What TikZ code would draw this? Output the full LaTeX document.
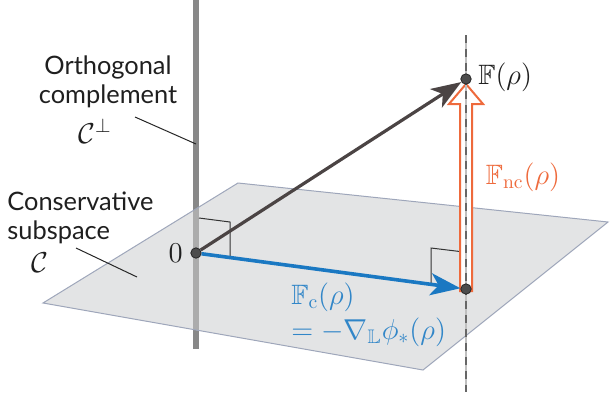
\documentclass[tikz,border=0pt]{standalone}
\usepackage{amsmath}
\usepackage{amssymb}
\usepackage{fontspec}
\setsansfont{Lato}
\usepackage{tikz}
\usetikzlibrary{arrows.meta,calc}

\definecolor{vecgray}{HTML}{4B4444}
\definecolor{vecblue}{HTML}{1A78C2}
\definecolor{vecorange}{HTML}{EE6A3C}
\definecolor{planefill}{HTML}{E3E4E5}
\definecolor{planeedge}{HTML}{9EA6BA}
\definecolor{polegray}{HTML}{888888}

\begin{document}
\begin{tikzpicture}[x=0.5pt,y=-0.5pt]
    % Styles for labels, dots and arrows
    \tikzset{
      lbl/.style={font=\sffamily\fontsize{12.7}{14.3}\selectfont, text=black!88, inner sep=0pt},
      mlbl/.style={font=\fontsize{14}{17.5}\selectfont, text=black!88, inner sep=0pt},
      leader/.style={black!85, line width=0.5pt},
      rightangle/.style={black!80, line width=0.5pt},
      dot/.style={circle, fill=black!70, draw=black!85, line width=0.4pt, minimum size=5.2pt, inner sep=0pt},
      arrow/.style={line width=1.6pt, -{Stealth[length=15pt,width=11pt,inset=4pt]}}
    }
    \useasboundingbox (0,0) rectangle (610,392);

    % Plane and orthogonal pole
    \coordinate (PA) at (238,183);
    \coordinate (PB) at (608,222);
    \coordinate (PC) at (423,370);
    \coordinate (PD) at (43,303);
    \coordinate (poletop) at (196,0);
    \coordinate (polebot) at (196,349);
    \draw[polegray, line width=3pt] (poletop) -- (polebot);
    \fill[planefill] (PA) -- (PB) -- (PC) -- (PD) -- cycle;
    \begin{scope}
      \clip (PA) -- (PB) -- (PC) -- (PD) -- cycle;
      \draw[polegray!70, line width=3pt] (poletop) -- (polebot);
    \end{scope}
    \draw[planeedge, line width=0.5pt] (PA) -- (PB) -- (PC) -- (PD) -- cycle;

    % Points with explicit coordinates
    \coordinate (O) at (196,253);
    \coordinate (F) at (466,79);
    \coordinate (Fc) at (466,289);
    \coordinate (dtop) at (466,35);
    \coordinate (dbot) at (466,392);

    % Right angles
    \draw[rightangle] (199,218) -- (230,222) -- (230,257);
    \draw[rightangle] (431,284) -- (431,248) -- (464,252);

    % Leader lines
    \coordinate (cperpend) at (135,117);
    \coordinate (cperppole) at (196,144);
    \coordinate (cend) at (76,248);
    \coordinate (cplane) at (137,277);
    \draw[leader] (cperpend) -- (cperppole);
    \draw[leader] (cend) -- (cplane);

    % Non-conservative part (hollow arrow)
    \draw[vecorange, line width=1pt, fill=white, line join=miter]
      ($(Fc)+(-6,2)$) -- ($(Fc)+(-6,-185)$) -- ($(Fc)+(-17,-185)$) -- ($(F)+(0,5)$)
      -- ($(Fc)+(17,-185)$) -- ($(Fc)+(6,-185)$) -- ($(Fc)+(6,2)$) -- cycle;
    \draw[black!25, line width=0.6pt] (dtop) -- (dbot);
    \draw[black!60, line width=1.1pt, dash pattern=on 4pt off 3pt] (dtop) -- (dbot);

    % Dots
    \node[dot] (origin) at (O) {};
    \node[dot] (full) at (F) {};
    \node[dot] (cons) at (Fc) {};

    % Arrows
    \draw[arrow, vecgray] (origin) -- (full);
    \draw[arrow, vecblue, line width=1.8pt] (origin) -- (cons);

    % Labels
    \node[lbl, align=center] (orthlbl) at (108,82) {Orthogonal\\complement};
    \node[mlbl] (cperp) at (95,131) {$\mathcal{C}^{\perp}$};
    \node[lbl, align=left, anchor=west] (conslbl) at (7,218) {Conservative\\subspace};
    \node[mlbl] (clbl) at (40,263) {$\mathcal{C}$};
    \node[mlbl, anchor=east] (zero) at (183,253) {$0$};
    \node[mlbl, anchor=west] (flbl) at (478,77) {$\mathbb{F}(\rho)$};
    \node[mlbl, text=vecorange] (fnclbl) at (523,177) {$\mathbb{F}_{\mathrm{nc}}(\rho)$};
    \node[mlbl, text=vecblue!90!white, align=left, anchor=north west] (fclbl) at (291,282)
      {$\mathbb{F}_{\mathrm{c}}(\rho)$\\$=-\nabla_{\mathbb{L}}\phi_*(\rho)$};
\end{tikzpicture}
\end{document}
